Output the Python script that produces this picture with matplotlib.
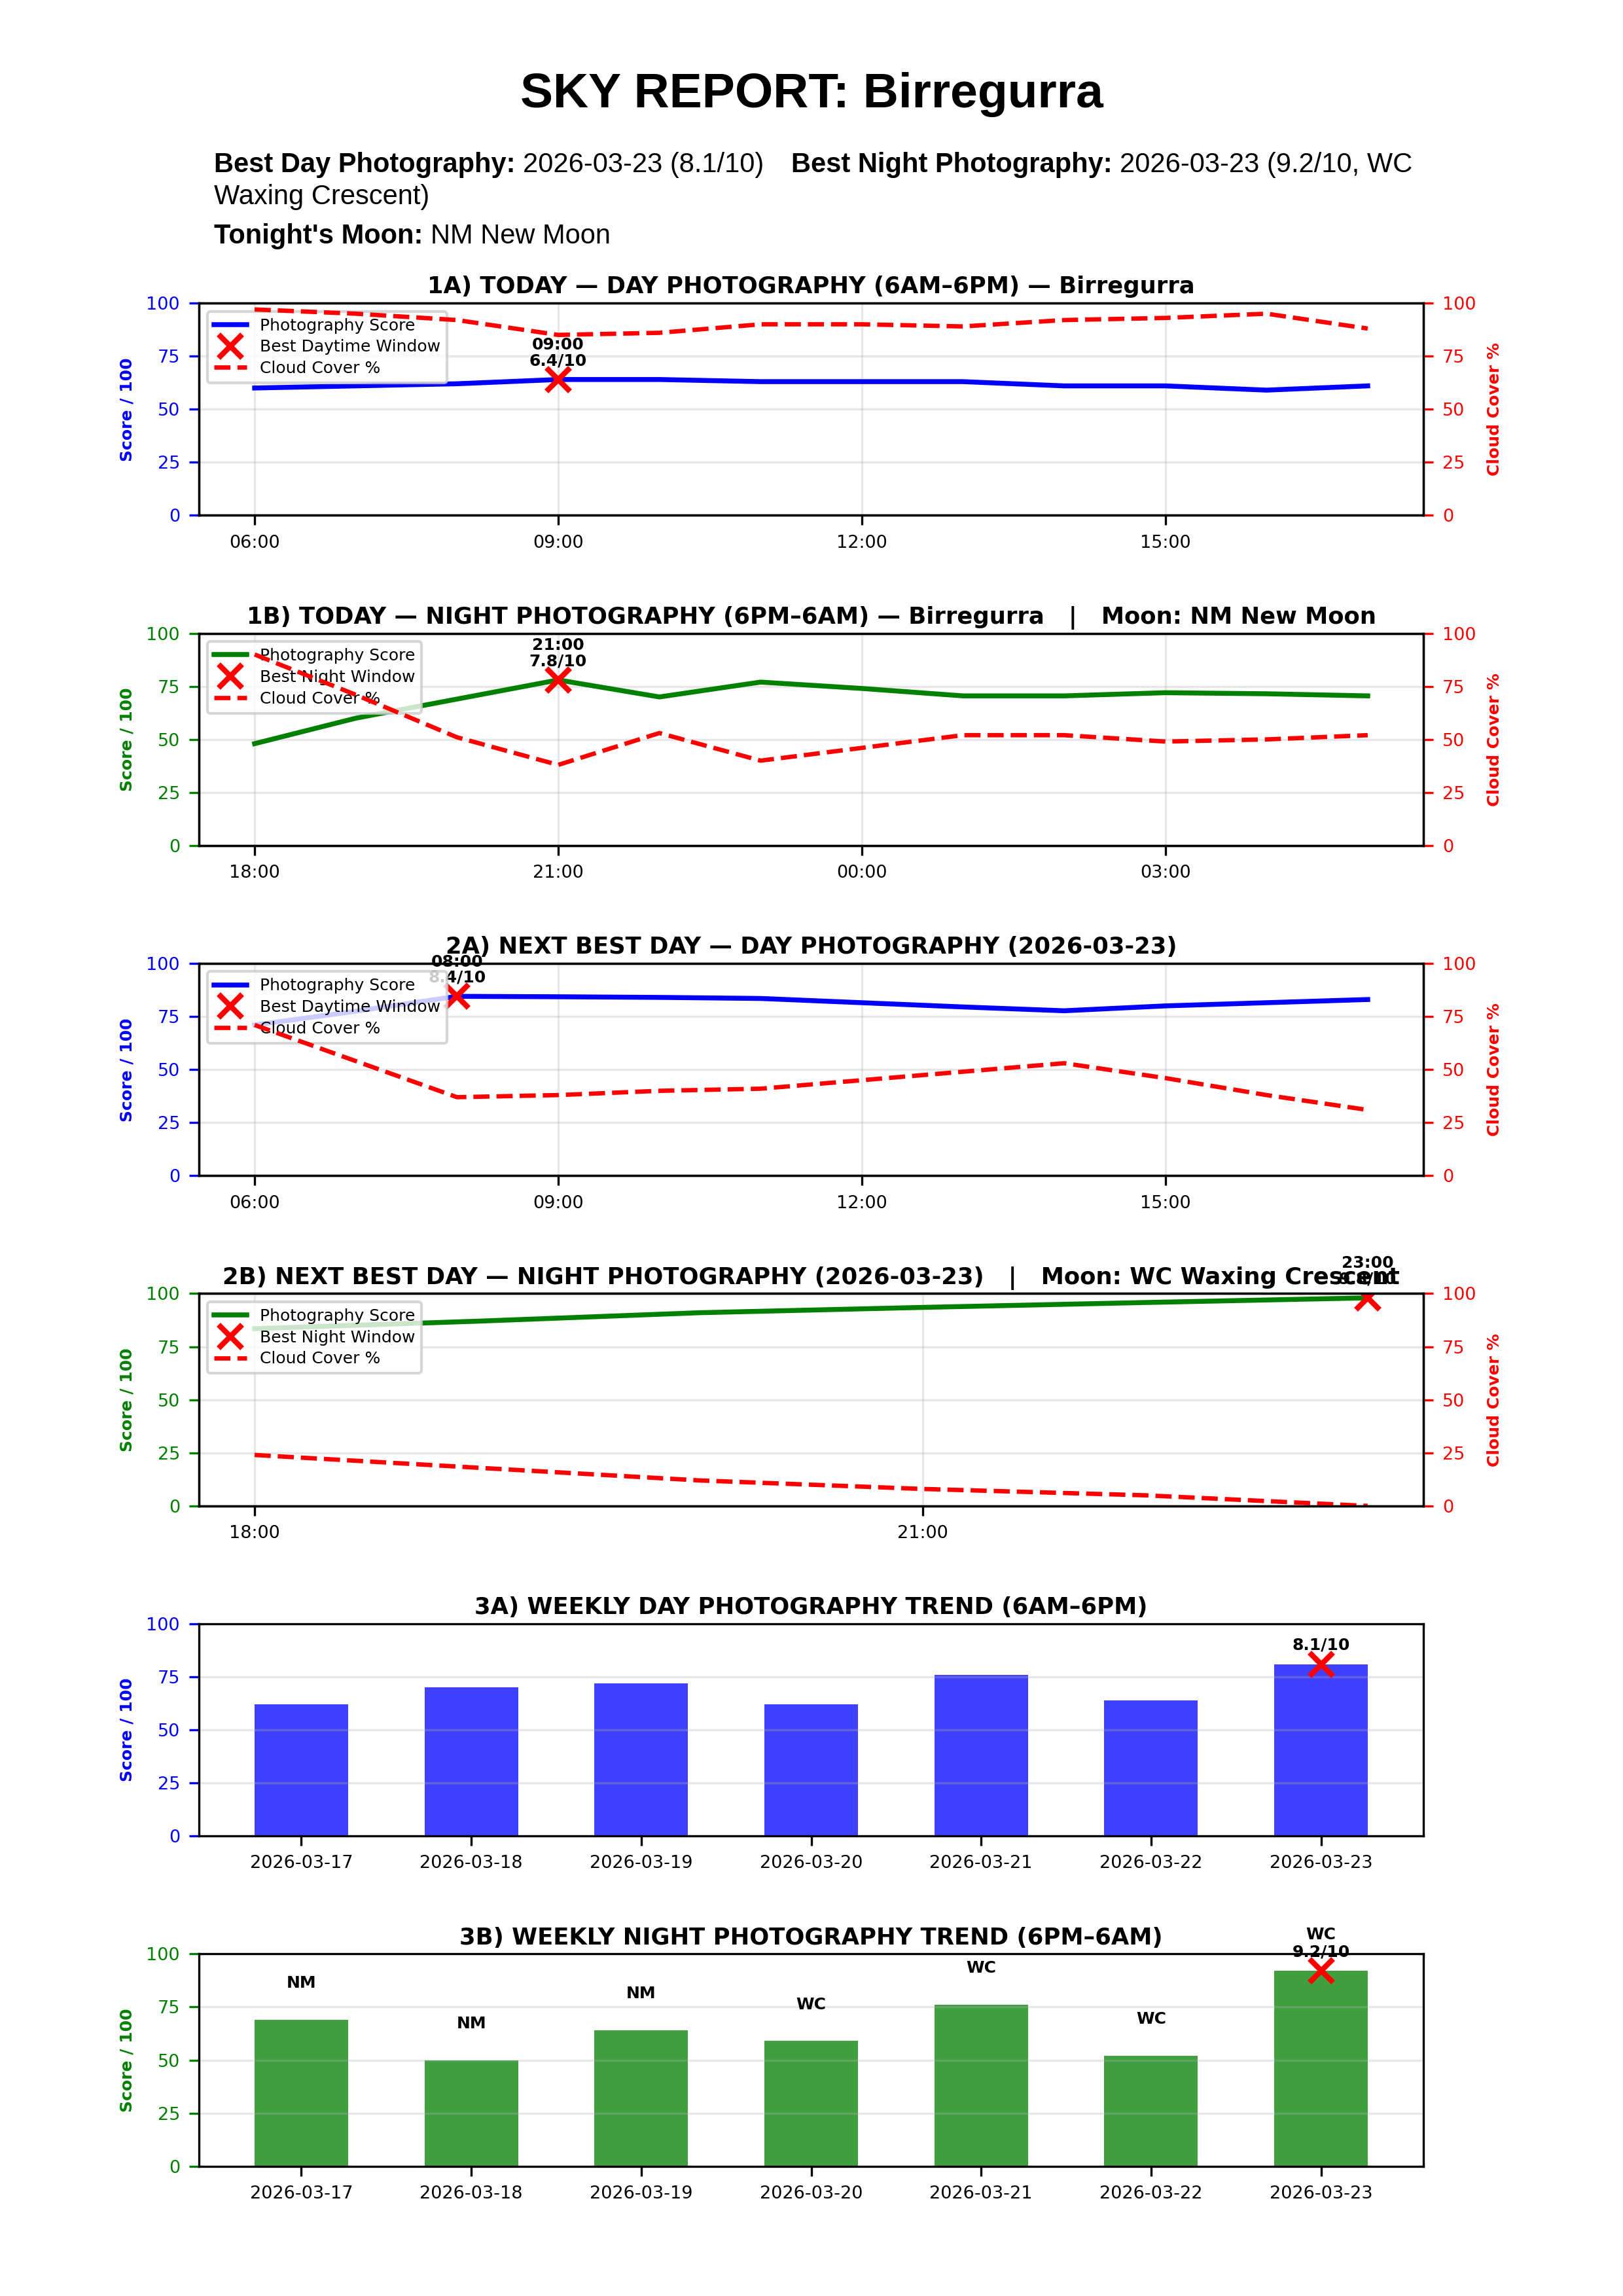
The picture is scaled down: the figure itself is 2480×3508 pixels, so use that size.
import matplotlib
matplotlib.use('Agg')
import matplotlib.pyplot as plt
import matplotlib.dates as mdates
import pandas as pd
import numpy as np

LOCATION = 'Birregurra'
NEXT_BEST = '2026-03-23'

# today, day window (06:00 - 17:00)
today_day_times = pd.date_range('2026-03-17 06:00', periods=12, freq='h')
today_day_score = [60, 61, 62, 64, 64, 63, 63, 63, 61, 61, 59, 61]
today_day_cloud = [97, 95, 92, 85, 86, 90, 90, 89, 92, 93, 95, 88]

# today, night window (18:00 - 05:00)
today_night_times = pd.date_range('2026-03-17 18:00', periods=12, freq='h')
today_night_score = [48, 60, 69, 78, 70, 77, 74, 70.5, 70.5, 72, 71.5, 70.5]
today_night_cloud = [90, 71, 51, 38, 53, 40, 46, 52, 52, 49, 50, 52]

# next best day, day window
next_day_times = pd.date_range('2026-03-23 06:00', periods=12, freq='h')
next_day_score = [71, 77.5, 84.5, 84.3, 84, 83.5, 81.5, 79.5, 77.7, 80, 81.5, 83]
next_day_cloud = [71, 54, 37, 38, 40, 41, 45, 49, 53, 46, 38, 31]

# next best day, night window
next_night_times = pd.date_range('2026-03-23 18:00', periods=6, freq='h')
next_night_score = [83.5, 87, 91, 93.5, 95.8, 98]
next_night_cloud = [24, 18, 12, 8, 5, 0]

# weekly trend
week_dates = ['2026-03-17', '2026-03-18', '2026-03-19', '2026-03-20',
              '2026-03-21', '2026-03-22', '2026-03-23']
week_day_score = [62, 70, 72, 62, 76, 64, 81]
week_night_score = [69, 50, 64, 59, 76, 52, 92]
week_moon = ['NM', 'NM', 'NM', 'WC', 'WC', 'WC', 'WC']

TICK_FS = 6.5
TITLE_FS = 8.5
HEAD_FONT = 'Liberation Sans'

fig = plt.figure(figsize=(2480 / 300, 3508 / 300), dpi=300)
gs = fig.add_gridspec(6, 1, left=0.1226, right=0.877, top=0.868, bottom=0.0565, hspace=0.555)
axes = [fig.add_subplot(gs[i]) for i in range(6)]


def line_panel(ax, times, score, cloud, color, best_label, title):
    ax2 = ax.twinx()
    ax.plot(times, score, color=color, lw=1.8, label='Photography Score')
    i = int(np.argmax(score))
    ax.plot([times[i]], [score[i]], linestyle='none', marker='x', color='red',
            ms=8.5, mew=2, label=best_label)
    ax.annotate(f"{times[i]:%H:%M}\n{score[i] / 10:.1f}/10", (times[i], score[i]),
                xytext=(0, 4), textcoords='offset points', ha='center', va='bottom',
                fontsize=6, fontweight='bold', linespacing=1.0)
    ax2.plot(times, cloud, color='red', ls='--', lw=1.6, label='Cloud Cover %')

    ax.set_ylim(0, 100)
    ax2.set_ylim(0, 100)
    ax.set_yticks([0, 25, 50, 75, 100])
    ax2.set_yticks([0, 25, 50, 75, 100])
    ax.set_ylabel('Score / 100', color=color, fontsize=6, fontweight='bold')
    ax2.set_ylabel('Cloud Cover %', color='red', fontsize=6, fontweight='bold')
    ax.tick_params(axis='y', colors=color, labelsize=TICK_FS)
    ax2.tick_params(axis='y', colors='red', labelsize=TICK_FS)
    ax.tick_params(axis='x', labelsize=TICK_FS)
    ax.xaxis.set_major_locator(mdates.HourLocator(byhour=range(0, 24, 3)))
    ax.xaxis.set_major_formatter(mdates.DateFormatter('%H:%M'))
    ax.grid(alpha=0.3)
    ax.set_title(title, fontsize=TITLE_FS, fontweight='bold', pad=3.5)

    h1, l1 = ax.get_legend_handles_labels()
    h2, l2 = ax2.get_legend_handles_labels()
    ax.legend(h1 + h2, l1 + l2, loc='upper left', fontsize=6, labelspacing=0.35)


def bar_panel(ax, values, color, title, moons=None):
    x = np.arange(len(week_dates))
    ax.bar(x, values, width=0.55, color=color, alpha=0.75)
    i = int(np.argmax(values))
    ax.plot(i, values[i], linestyle='none', marker='x', color='red', ms=8.5, mew=2)
    ax.annotate(f"{values[i] / 10:.1f}/10", (i, values[i]), xytext=(0, 4),
                textcoords='offset points', ha='center', va='bottom',
                fontsize=6, fontweight='bold')
    if moons:
        for j, (v, m) in enumerate(zip(values, moons)):
            ax.annotate(m, (j, v), xytext=(0, 10.5), textcoords='offset points',
                        ha='center', va='bottom', fontsize=6, fontweight='bold')
    ax.set_xticks(x)
    ax.set_xticklabels(week_dates)
    ax.set_ylim(0, 100)
    ax.set_yticks([0, 25, 50, 75, 100])
    ax.set_ylabel('Score / 100', color=color, fontsize=6, fontweight='bold')
    ax.tick_params(axis='y', colors=color, labelsize=TICK_FS)
    ax.tick_params(axis='x', labelsize=TICK_FS)
    ax.grid(axis='y', alpha=0.3)
    ax.set_title(title, fontsize=TITLE_FS, fontweight='bold', pad=3.5)


line_panel(axes[0], today_day_times, today_day_score, today_day_cloud, 'blue',
           'Best Daytime Window',
           f'1A) TODAY \u2014 DAY PHOTOGRAPHY (6AM\u20136PM) \u2014 {LOCATION}')
line_panel(axes[1], today_night_times, today_night_score, today_night_cloud, 'green',
           'Best Night Window',
           f'1B) TODAY \u2014 NIGHT PHOTOGRAPHY (6PM\u20136AM) \u2014 {LOCATION}   |   Moon: NM New Moon')
line_panel(axes[2], next_day_times, next_day_score, next_day_cloud, 'blue',
           'Best Daytime Window',
           f'2A) NEXT BEST DAY \u2014 DAY PHOTOGRAPHY ({NEXT_BEST})')
line_panel(axes[3], next_night_times, next_night_score, next_night_cloud, 'green',
           'Best Night Window',
           f'2B) NEXT BEST DAY \u2014 NIGHT PHOTOGRAPHY ({NEXT_BEST})   |   Moon: WC Waxing Crescent')
bar_panel(axes[4], week_day_score, 'blue', '3A) WEEKLY DAY PHOTOGRAPHY TREND (6AM\u20136PM)')
bar_panel(axes[5], week_night_score, 'green', '3B) WEEKLY NIGHT PHOTOGRAPHY TREND (6PM\u20136AM)',
          moons=week_moon)

# header
fig.text(0.5, 0.9533, f'SKY REPORT: {LOCATION}', ha='center', va='baseline',
         fontsize=18, fontweight='bold', family=HEAD_FONT)

renderer = fig.canvas.get_renderer()


def width_of(txt, weight):
    t = fig.text(0, 0, txt, fontsize=10, fontweight=weight, family=HEAD_FONT)
    w = t.get_window_extent(renderer).width / fig.bbox.width
    t.remove()
    return w


space_w = width_of('x x', 'normal') - width_of('xx', 'normal')


def rich_line(x, y, parts):
    for txt, weight in parts:
        fig.text(x, y, txt, fontsize=10, fontweight=weight, family=HEAD_FONT, va='baseline')
        x += width_of(txt, weight) + space_w


rich_line(0.1317, 0.9251, [('Best Day Photography:', 'bold'), ('2026-03-23 (8.1/10)', 'normal')])
rich_line(0.4875, 0.9251, [('Best Night Photography:', 'bold'), ('2026-03-23 (9.2/10, WC', 'normal')])
rich_line(0.1317, 0.9110, [('Waxing Crescent)', 'normal')])
rich_line(0.1317, 0.8940, [("Tonight's Moon:", 'bold'), ('NM New Moon', 'normal')])

fig.savefig('out.png', dpi=300)
